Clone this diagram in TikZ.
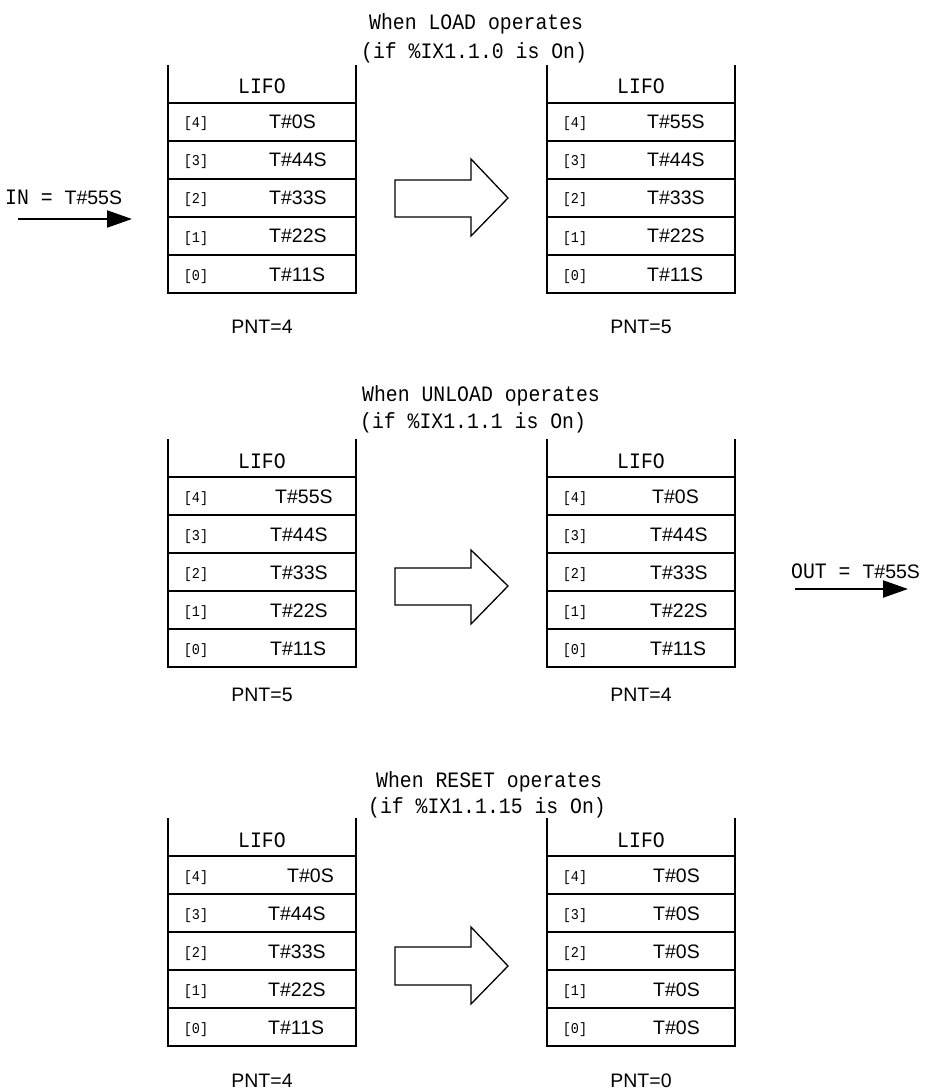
\documentclass[tikz,border=0pt]{standalone}
\usepackage{fontspec}
\usetikzlibrary{arrows.meta}
\newfontfamily\monof[FakeStretch=0.9]{Liberation Mono}
\newfontfamily\valf{Liberation Sans}
\newcommand\monotext{\monof\fontsize{22}{24}\selectfont}
\newcommand\valtext{\valf\fontsize{19.5}{22}\selectfont}
\tikzset{
  stackline/.style={line width=1.8pt, line cap=rect},
  cellbox/.style={draw, line width=1.8pt, rectangle, inner sep=0pt, outer sep=0pt,
    minimum width=188pt, minimum height=38pt, anchor=north west},
  hdr/.style={font=\monotext, anchor=base, inner sep=0pt},
  ttl/.style={font=\monotext, anchor=base west, inner sep=0pt},
  idx/.style={font=\monof\fontsize{15}{17}\selectfont, anchor=base, inner sep=0pt},
  val/.style={font=\valtext, anchor=base west, inner sep=0pt},
  pnt/.style={font=\valtext, anchor=base, inner sep=0pt},
  bigarrow/.style={draw, line width=1.3pt, line join=miter},
  flowarrow/.style={line width=2pt, -{Triangle[length=25pt,width=17pt]}},
}
% #1 name, #2 left x, #3 header line y
\newcommand\lifostack[3]{%
  \foreach \r in {0,...,4}{%
    \node[cellbox] (#1-r\r) at ({#2}, {#3+38*(4-\r)}) {};
    \node[idx] (#1-i\r) at ({#2+28}, {#3+38*(4-\r)+25}) {[\r]};
  }
  \coordinate (#1-tl) at ({#2}, {#3-37});
  \coordinate (#1-tr) at ({#2+188}, {#3-37});
  \draw[stackline] (#1-tl) -- (#1-r4.north west);
  \draw[stackline] (#1-tr) -- (#1-r4.north east);
  \node[hdr] (#1-hdr) at ({#2+94}, {#3-9}) {LIFO};
}
% #1 name, #2 x, #3 header y, #4 row, #5 text
\newcommand\cellval[5]{%
  \node[val] (#1) at ({#2}, {#3+38*(4-#4)+26}) {#5};
}
\begin{document}
\begin{tikzpicture}[x=1pt, y=-1pt]
\useasboundingbox (0,0) rectangle (928,1091);

% ================= Block 1 : LOAD =================
\node[ttl] (t1a) at (369,30) {When LOAD operates};
\node[ttl] (t1b) at (361,59) {(if \%IX1.1.0 is On)};
\lifostack{b1L}{168}{103}
\lifostack{b1R}{547}{103}
\cellval{b1L-v4}{269}{103}{4}{T\#0S}
\cellval{b1L-v3}{269}{103}{3}{T\#44S}
\cellval{b1L-v2}{269}{103}{2}{T\#33S}
\cellval{b1L-v1}{269}{103}{1}{T\#22S}
\cellval{b1L-v0}{269}{103}{0}{T\#11S}
\cellval{b1R-v4}{647}{103}{4}{T\#55S}
\cellval{b1R-v3}{647}{103}{3}{T\#44S}
\cellval{b1R-v2}{647}{103}{2}{T\#33S}
\cellval{b1R-v1}{647}{103}{1}{T\#22S}
\cellval{b1R-v0}{647}{103}{0}{T\#11S}
\node[pnt] (p1L) at (262,333) {PNT=4};
\node[pnt] (p1R) at (641,333) {PNT=5};
\draw[bigarrow] (395,180) -- (471,180) -- (471,159) -- (508,198) -- (471,236) -- (471,217) -- (395,217) -- cycle;
\node[anchor=base west, inner sep=0pt, font=\monotext] (inlbl) at (5,205) {IN = {\valtext T\#55S}};
\coordinate (inA) at (18,219);
\coordinate (inB) at (132,219);
\draw[flowarrow] (inA) -- (inB);

% ================= Block 2 : UNLOAD =================
\node[ttl] (t2a) at (362,401) {When UNLOAD operates};
\node[ttl] (t2b) at (360,428) {(if \%IX1.1.1 is On)};
\lifostack{b2L}{168}{477}
\lifostack{b2R}{547}{477}
\cellval{b2L-v4}{275}{477}{4}{T\#55S}
\cellval{b2L-v3}{270}{477}{3}{T\#44S}
\cellval{b2L-v2}{270}{477}{2}{T\#33S}
\cellval{b2L-v1}{270}{477}{1}{T\#22S}
\cellval{b2L-v0}{270}{477}{0}{T\#11S}
\cellval{b2R-v4}{652}{477}{4}{T\#0S}
\cellval{b2R-v3}{650}{477}{3}{T\#44S}
\cellval{b2R-v2}{650}{477}{2}{T\#33S}
\cellval{b2R-v1}{650}{477}{1}{T\#22S}
\cellval{b2R-v0}{650}{477}{0}{T\#11S}
\node[pnt] (p2L) at (262,701) {PNT=5};
\node[pnt] (p2R) at (641,701) {PNT=4};
\draw[bigarrow] (395,568) -- (471,568) -- (471,550) -- (508,586) -- (471,624) -- (471,605) -- (395,605) -- cycle;
\node[anchor=base west, inner sep=0pt, font=\monotext] (outlbl) at (791,578) {OUT = {\valtext T\#55S}};
\coordinate (outA) at (795,589);
\coordinate (outB) at (908,589);
\draw[flowarrow] (outA) -- (outB);

% ================= Block 3 : RESET =================
\node[ttl] (t3a) at (376,787) {When RESET operates};
\node[ttl] (t3b) at (368,813) {(if \%IX1.1.15 is On)};
\lifostack{b3L}{168}{856}
\lifostack{b3R}{547}{856}
\cellval{b3L-v4}{287}{856}{4}{T\#0S}
\cellval{b3L-v3}{268}{856}{3}{T\#44S}
\cellval{b3L-v2}{268}{856}{2}{T\#33S}
\cellval{b3L-v1}{268}{856}{1}{T\#22S}
\cellval{b3L-v0}{268}{856}{0}{T\#11S}
\cellval{b3R-v4}{653}{856}{4}{T\#0S}
\cellval{b3R-v3}{653}{856}{3}{T\#0S}
\cellval{b3R-v2}{653}{856}{2}{T\#0S}
\cellval{b3R-v1}{653}{856}{1}{T\#0S}
\cellval{b3R-v0}{653}{856}{0}{T\#0S}
\node[pnt] (p3L) at (262,1087) {PNT=4};
\node[pnt] (p3R) at (641,1087) {PNT=0};
\draw[bigarrow] (395,947) -- (471,947) -- (471,927) -- (508,966) -- (471,1004) -- (471,985) -- (395,985) -- cycle;
\end{tikzpicture}
\end{document}
